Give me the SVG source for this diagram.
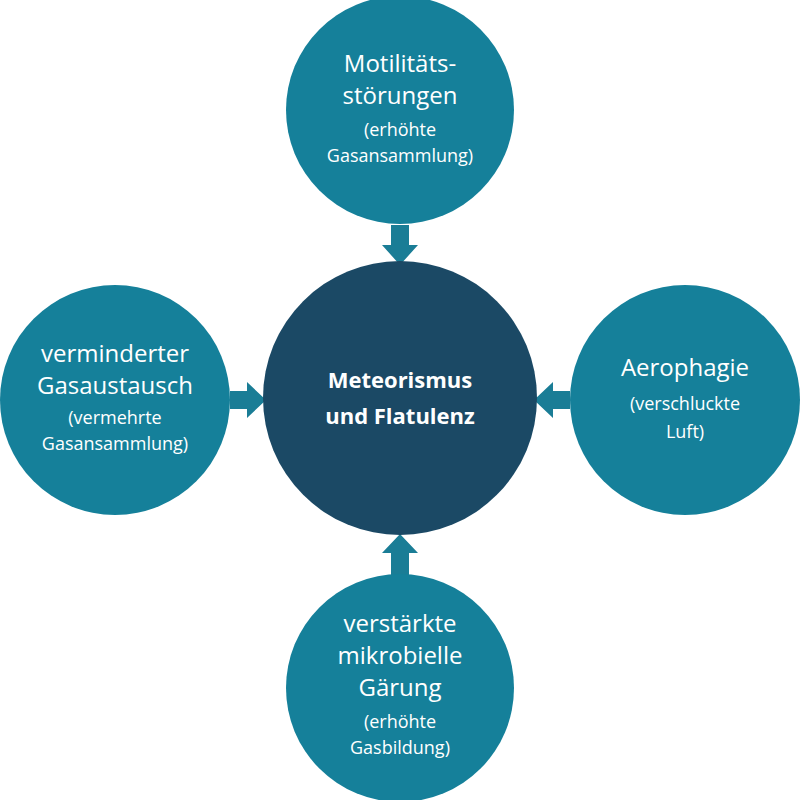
<svg xmlns="http://www.w3.org/2000/svg" width="800" height="800" viewBox="0 0 800 800">
<style>
.o{fill:#15809a}
.c{fill:#1b4965}
.a{fill:#1a7d96}
text{font-family:"Open Sans","Liberation Sans",sans-serif;fill:#fff;text-anchor:middle}
.t{font-size:24px}
.s{font-size:18px}
.b{font-size:22px;font-weight:bold}
</style>
<rect width="800" height="800" fill="#fff"/>
<g id="connectors">
<polygon class="a" points="391,225 409,225 409,245 418,245 400,265 382,245 391,245"/>
<polygon class="a" points="230,391 230,409 247,409 247,418 266,400 247,382 247,391"/>
<polygon class="a" points="570,391 570,409 553,409 553,418 534,400 553,382 553,391"/>
<polygon class="a" points="391,575 409,575 409,553 418,553 400,534 382,553 391,553"/>
</g>
<g id="center"><circle class="c" cx="400" cy="398" r="137"/>
<text class="b" x="400" y="388">Meteorismus</text><text class="b" x="400" y="424">und Flatulenz</text></g>
<g id="top"><circle class="o" cx="400" cy="110" r="114"/>
<text class="t" x="400" y="72">Motilitäts-</text><text class="t" x="400" y="104">störungen</text>
<text class="s" x="400" y="136">(erhöhte</text><text class="s" x="400" y="162">Gasansammlung)</text></g>
<g id="left"><circle class="o" cx="115" cy="400" r="115"/>
<text class="t" x="115" y="362">verminderter</text><text class="t" x="115" y="394">Gasaustausch</text>
<text class="s" x="115" y="424">(vermehrte</text><text class="s" x="115" y="450">Gasansammlung)</text></g>
<g id="right"><circle class="o" cx="685" cy="400" r="115"/>
<text class="t" x="685" y="376">Aerophagie</text>
<text class="s" x="685" y="410">(verschluckte</text><text class="s" x="685" y="438">Luft)</text></g>
<g id="bottom"><circle class="o" cx="400" cy="688" r="114"/>
<text class="t" x="400" y="632">verstärkte</text><text class="t" x="400" y="664">mikrobielle</text><text class="t" x="400" y="696">Gärung</text>
<text class="s" x="400" y="728">(erhöhte</text><text class="s" x="400" y="754">Gasbildung)</text></g>
</svg>
